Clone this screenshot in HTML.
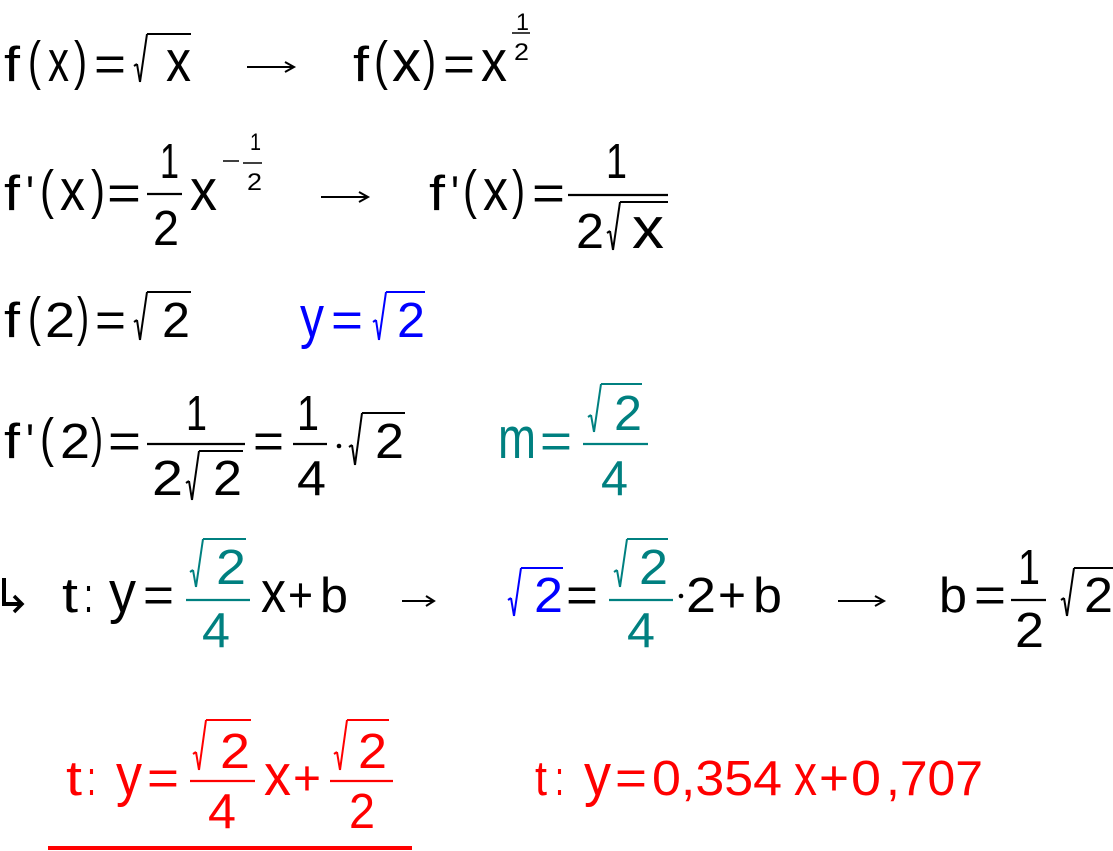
<!DOCTYPE html>
<html><head><meta charset="utf-8"><style>
html,body{margin:0;padding:0;background:#fff;}
svg{display:block}
text{font-family:"Liberation Sans",Arial,sans-serif;font-size:49px;fill:#000}
.l{font-size:58px}
.s{font-size:24px}
.p{font-size:54px}
.b{fill:#0000ff}.t{fill:#008080}.r{fill:#ff0000}
polyline{fill:none;stroke:#000;stroke-width:1.6}
line{stroke:#000;stroke-width:2.2}
.q line{stroke-width:2}
</style></head><body>
<svg width="1113" height="851" viewBox="0 0 1113 851" xmlns="http://www.w3.org/2000/svg">
<!-- Line 1 -->
<text x="4" y="81" textLength="16" lengthAdjust="spacingAndGlyphs">f</text>
<text class="p" x="28" y="79" textLength="13" lengthAdjust="spacingAndGlyphs">(</text>
<text class="l" x="48" y="81" textLength="21" lengthAdjust="spacingAndGlyphs">x</text>
<text class="p" x="74" y="79" textLength="13" lengthAdjust="spacingAndGlyphs">)</text>
<text x="94" y="81" textLength="32" lengthAdjust="spacingAndGlyphs">=</text>
<g class="q"><line x1="134" y1="66" x2="137" y2="64"/><line x1="137" y1="64" x2="140" y2="82"/><line x1="140" y1="82" x2="147" y2="34"/><line x1="147" y1="34" x2="191" y2="34"/></g>
<text class="l" x="166" y="81" textLength="25" lengthAdjust="spacingAndGlyphs">x</text>
<line x1="247" y1="67" x2="293" y2="67" style="stroke-width:2"/><polyline points="285,62 294,67 285,72" style="stroke-width:2"/>
<text x="353" y="81" textLength="16" lengthAdjust="spacingAndGlyphs">f</text>
<text class="p" x="374" y="79" textLength="14" lengthAdjust="spacingAndGlyphs">(</text>
<text class="l" x="392" y="81" textLength="29" lengthAdjust="spacingAndGlyphs">x</text>
<text class="p" x="423" y="79" textLength="13" lengthAdjust="spacingAndGlyphs">)</text>
<text x="443" y="81" textLength="32" lengthAdjust="spacingAndGlyphs">=</text>
<text class="l" x="481" y="81" textLength="26" lengthAdjust="spacingAndGlyphs">x</text>
<text class="s" x="516" y="30" textLength="13" lengthAdjust="spacingAndGlyphs">1</text>
<line x1="512" y1="33" x2="530" y2="33" style="stroke-width:1.5"/>
<text class="s" x="514" y="60" textLength="15" lengthAdjust="spacingAndGlyphs">2</text>
<!-- Line 2 -->
<text x="4" y="210" textLength="16" lengthAdjust="spacingAndGlyphs">f</text>
<text x="26" y="210" textLength="8" lengthAdjust="spacingAndGlyphs">'</text>
<text class="p" x="40" y="208" textLength="14" lengthAdjust="spacingAndGlyphs">(</text>
<text class="l" x="60" y="210" textLength="25" lengthAdjust="spacingAndGlyphs">x</text>
<text class="p" x="91" y="208" textLength="14" lengthAdjust="spacingAndGlyphs">)</text>
<text x="107" y="210" textLength="34" lengthAdjust="spacingAndGlyphs">=</text>
<text x="160" y="178" textLength="19" lengthAdjust="spacingAndGlyphs">1</text>
<line x1="147" y1="194" x2="182" y2="194"/>
<text x="153" y="245" textLength="26" lengthAdjust="spacingAndGlyphs">2</text>
<text class="l" x="190" y="210" textLength="27" lengthAdjust="spacingAndGlyphs">x</text>
<line x1="223" y1="161" x2="239" y2="161" style="stroke-width:1.5"/>
<text class="s" x="250" y="150" textLength="11" lengthAdjust="spacingAndGlyphs">1</text>
<line x1="243" y1="163" x2="262" y2="163" style="stroke-width:1.5"/>
<text class="s" x="247" y="190" textLength="15" lengthAdjust="spacingAndGlyphs">2</text>
<line x1="321" y1="197" x2="367" y2="197" style="stroke-width:2"/><polyline points="359,192 368,197 359,202" style="stroke-width:2"/>
<text x="429" y="210" textLength="16" lengthAdjust="spacingAndGlyphs">f</text>
<text x="451" y="210" textLength="8" lengthAdjust="spacingAndGlyphs">'</text>
<text class="p" x="463" y="208" textLength="14" lengthAdjust="spacingAndGlyphs">(</text>
<text class="l" x="483" y="210" textLength="25" lengthAdjust="spacingAndGlyphs">x</text>
<text class="p" x="512" y="208" textLength="13" lengthAdjust="spacingAndGlyphs">)</text>
<text x="532" y="210" textLength="33" lengthAdjust="spacingAndGlyphs">=</text>
<text x="606" y="178" textLength="21" lengthAdjust="spacingAndGlyphs">1</text>
<line x1="568" y1="195" x2="668" y2="195"/>
<text x="576" y="248" textLength="28" lengthAdjust="spacingAndGlyphs">2</text>
<g class="q"><line x1="607" y1="233" x2="610" y2="231"/><line x1="610" y1="231" x2="613" y2="250"/><line x1="613" y1="250" x2="620" y2="202"/><line x1="620" y1="202" x2="668" y2="202"/></g>
<text class="l" x="632" y="248" textLength="32" lengthAdjust="spacingAndGlyphs">x</text>
<!-- Line 3 -->
<text x="4" y="337" textLength="16" lengthAdjust="spacingAndGlyphs">f</text>
<text class="p" x="28" y="335" textLength="13" lengthAdjust="spacingAndGlyphs">(</text>
<text x="45" y="337" textLength="30" lengthAdjust="spacingAndGlyphs">2</text>
<text class="p" x="77" y="335" textLength="12" lengthAdjust="spacingAndGlyphs">)</text>
<text x="95" y="337" textLength="31" lengthAdjust="spacingAndGlyphs">=</text>
<g class="q"><line x1="134" y1="322" x2="137" y2="320"/><line x1="137" y1="320" x2="140" y2="340"/><line x1="140" y1="340" x2="147" y2="292"/><line x1="147" y1="292" x2="191" y2="292"/></g>
<text x="162" y="337" textLength="28" lengthAdjust="spacingAndGlyphs">2</text>
<text class="l b" x="300" y="337" textLength="24" lengthAdjust="spacingAndGlyphs">y</text>
<text class="b" x="331" y="337" textLength="32" lengthAdjust="spacingAndGlyphs">=</text>
<g class="q" style="stroke:#0000ff"><line x1="373" y1="322" x2="376" y2="320" style="stroke:#0000ff"/><line x1="376" y1="320" x2="379" y2="340" style="stroke:#0000ff"/><line x1="379" y1="340" x2="386" y2="292" style="stroke:#0000ff"/><line x1="386" y1="292" x2="425" y2="292" style="stroke:#0000ff"/></g>
<text class="b" x="397" y="337" textLength="28" lengthAdjust="spacingAndGlyphs">2</text>
<!-- Line 4 -->
<text x="4" y="458" textLength="16" lengthAdjust="spacingAndGlyphs">f</text>
<text x="26" y="458" textLength="8" lengthAdjust="spacingAndGlyphs">'</text>
<text class="p" x="40" y="456" textLength="14" lengthAdjust="spacingAndGlyphs">(</text>
<text x="60" y="458" textLength="30" lengthAdjust="spacingAndGlyphs">2</text>
<text class="p" x="91" y="456" textLength="12" lengthAdjust="spacingAndGlyphs">)</text>
<text x="108" y="458" textLength="33" lengthAdjust="spacingAndGlyphs">=</text>
<text x="186" y="430" textLength="21" lengthAdjust="spacingAndGlyphs">1</text>
<line x1="147" y1="444" x2="245" y2="444"/>
<text x="152" y="495" textLength="31" lengthAdjust="spacingAndGlyphs">2</text>
<g class="q"><line x1="186" y1="483" x2="189" y2="481"/><line x1="189" y1="481" x2="192" y2="500"/><line x1="192" y1="500" x2="199" y2="451"/><line x1="199" y1="451" x2="243" y2="451"/></g>
<text x="213" y="495" textLength="29" lengthAdjust="spacingAndGlyphs">2</text>
<text x="253" y="458" textLength="31" lengthAdjust="spacingAndGlyphs">=</text>
<text x="297" y="430" textLength="22" lengthAdjust="spacingAndGlyphs">1</text>
<line x1="293" y1="444" x2="327" y2="444"/>
<text x="297" y="495" textLength="29" lengthAdjust="spacingAndGlyphs">4</text>
<circle cx="339" cy="446" r="2.3" fill="#000"/>
<g class="q"><line x1="349" y1="447" x2="352" y2="445"/><line x1="352" y1="445" x2="355" y2="465"/><line x1="355" y1="465" x2="362" y2="413"/><line x1="362" y1="413" x2="405" y2="413"/></g>
<text x="375" y="458" textLength="29" lengthAdjust="spacingAndGlyphs">2</text>
<text class="l t" x="498" y="458" textLength="38" lengthAdjust="spacingAndGlyphs">m</text>
<text class="t" x="540" y="458" textLength="32" lengthAdjust="spacingAndGlyphs">=</text>
<g class="q"><line x1="588" y1="417" x2="591" y2="415" style="stroke:#008080"/><line x1="591" y1="415" x2="594" y2="432" style="stroke:#008080"/><line x1="594" y1="432" x2="601" y2="384" style="stroke:#008080"/><line x1="601" y1="384" x2="642" y2="384" style="stroke:#008080"/></g>
<text class="t" x="614" y="430" textLength="28" lengthAdjust="spacingAndGlyphs">2</text>
<line x1="583" y1="444" x2="648" y2="444" style="stroke:#008080"/>
<text class="t" x="601" y="495" textLength="27" lengthAdjust="spacingAndGlyphs">4</text>
<!-- Line 5 -->
<polyline points="4,578 4,604 20,604" style="stroke-width:4"/><polyline points="14,596 22,604 14,612" style="stroke-width:3.5"/>
<text x="62" y="612" textLength="16" lengthAdjust="spacingAndGlyphs">t</text>
<text x="84" y="612" textLength="9" lengthAdjust="spacingAndGlyphs">:</text>
<text class="l" x="109" y="612" textLength="27" lengthAdjust="spacingAndGlyphs">y</text>
<text x="143" y="612" textLength="31" lengthAdjust="spacingAndGlyphs">=</text>
<g class="q"><line x1="190" y1="572" x2="193" y2="570" style="stroke:#008080"/><line x1="193" y1="570" x2="196" y2="587" style="stroke:#008080"/><line x1="196" y1="587" x2="203" y2="539" style="stroke:#008080"/><line x1="203" y1="539" x2="246" y2="539" style="stroke:#008080"/></g>
<text class="t" x="216" y="584" textLength="30" lengthAdjust="spacingAndGlyphs">2</text>
<line x1="186" y1="600" x2="250" y2="600" style="stroke:#008080"/>
<text class="t" x="202" y="647" textLength="28" lengthAdjust="spacingAndGlyphs">4</text>
<text class="l" x="261" y="612" textLength="25" lengthAdjust="spacingAndGlyphs">x</text>
<text x="288" y="612" textLength="25" lengthAdjust="spacingAndGlyphs">+</text>
<text x="320" y="612" textLength="28" lengthAdjust="spacingAndGlyphs">b</text>
<line x1="402" y1="601" x2="433" y2="601" style="stroke-width:2"/><polyline points="426,596 434,601 426,606" style="stroke-width:2"/>
<g class="q"><line x1="508" y1="600" x2="511" y2="598" style="stroke:#0000ff"/><line x1="511" y1="598" x2="514" y2="616" style="stroke:#0000ff"/><line x1="514" y1="616" x2="521" y2="568" style="stroke:#0000ff"/><line x1="521" y1="568" x2="563" y2="568" style="stroke:#0000ff"/></g>
<text class="b" x="534" y="612" textLength="29" lengthAdjust="spacingAndGlyphs">2</text>
<text x="566" y="612" textLength="32" lengthAdjust="spacingAndGlyphs">=</text>
<g class="q"><line x1="614" y1="572" x2="617" y2="570" style="stroke:#008080"/><line x1="617" y1="570" x2="620" y2="587" style="stroke:#008080"/><line x1="620" y1="587" x2="627" y2="539" style="stroke:#008080"/><line x1="627" y1="539" x2="668" y2="539" style="stroke:#008080"/></g>
<text class="t" x="639" y="584" textLength="29" lengthAdjust="spacingAndGlyphs">2</text>
<line x1="609" y1="600" x2="673" y2="600" style="stroke:#008080"/>
<text class="t" x="627" y="647" textLength="28" lengthAdjust="spacingAndGlyphs">4</text>
<circle cx="681" cy="596" r="2.3" fill="#000"/>
<text x="686" y="612" textLength="30" lengthAdjust="spacingAndGlyphs">2</text>
<text x="718" y="612" textLength="28" lengthAdjust="spacingAndGlyphs">+</text>
<text x="753" y="612" textLength="29" lengthAdjust="spacingAndGlyphs">b</text>
<line x1="838" y1="601" x2="883" y2="601" style="stroke-width:2"/><polyline points="875,596 884,601 875,606" style="stroke-width:2"/>
<text x="939" y="612" textLength="28" lengthAdjust="spacingAndGlyphs">b</text>
<text x="974" y="612" textLength="32" lengthAdjust="spacingAndGlyphs">=</text>
<text x="1018" y="584" textLength="22" lengthAdjust="spacingAndGlyphs">1</text>
<line x1="1011" y1="600" x2="1046" y2="600"/>
<text x="1015" y="647" textLength="29" lengthAdjust="spacingAndGlyphs">2</text>
<g class="q"><line x1="1061" y1="600" x2="1064" y2="598"/><line x1="1064" y1="598" x2="1067" y2="616"/><line x1="1067" y1="616" x2="1074" y2="568"/><line x1="1074" y1="568" x2="1113" y2="568"/></g>
<text x="1084" y="612" textLength="29" lengthAdjust="spacingAndGlyphs">2</text>
<!-- Line 6 -->
<text class="r" x="66" y="795" textLength="16" lengthAdjust="spacingAndGlyphs">t</text>
<text class="r" x="87" y="795" textLength="9" lengthAdjust="spacingAndGlyphs">:</text>
<text class="l r" x="116" y="795" textLength="26" lengthAdjust="spacingAndGlyphs">y</text>
<text class="r" x="147" y="795" textLength="32" lengthAdjust="spacingAndGlyphs">=</text>
<g class="q"><line x1="193" y1="754" x2="196" y2="752" style="stroke:#ff0000"/><line x1="196" y1="752" x2="199" y2="770" style="stroke:#ff0000"/><line x1="199" y1="770" x2="206" y2="720" style="stroke:#ff0000"/><line x1="206" y1="720" x2="251" y2="720" style="stroke:#ff0000"/></g>
<text class="r" x="220" y="768" textLength="30" lengthAdjust="spacingAndGlyphs">2</text>
<line x1="190" y1="781" x2="255" y2="781" style="stroke:#ff0000"/>
<text class="r" x="208" y="828" textLength="28" lengthAdjust="spacingAndGlyphs">4</text>
<text class="l r" x="264" y="795" textLength="27" lengthAdjust="spacingAndGlyphs">x</text>
<text class="r" x="293" y="795" textLength="28" lengthAdjust="spacingAndGlyphs">+</text>
<g class="q"><line x1="334" y1="754" x2="337" y2="752" style="stroke:#ff0000"/><line x1="337" y1="752" x2="340" y2="770" style="stroke:#ff0000"/><line x1="340" y1="770" x2="347" y2="720" style="stroke:#ff0000"/><line x1="347" y1="720" x2="389" y2="720" style="stroke:#ff0000"/></g>
<text class="r" x="358" y="768" textLength="29" lengthAdjust="spacingAndGlyphs">2</text>
<line x1="330" y1="781" x2="393" y2="781" style="stroke:#ff0000"/>
<text class="r" x="349" y="828" textLength="26" lengthAdjust="spacingAndGlyphs">2</text>
<rect x="48" y="846" width="364" height="4" fill="#ff0000"/>
<text class="r" x="535" y="795" textLength="12" lengthAdjust="spacingAndGlyphs">t</text>
<text class="r" x="555" y="795" textLength="9" lengthAdjust="spacingAndGlyphs">:</text>
<text class="l r" x="584" y="795" textLength="27" lengthAdjust="spacingAndGlyphs">y</text>
<text class="r" x="615" y="795" textLength="32" lengthAdjust="spacingAndGlyphs">=</text>
<text class="r" x="652" y="795" textLength="130" lengthAdjust="spacingAndGlyphs">0,354</text>
<text class="l r" x="794" y="795" textLength="23" lengthAdjust="spacingAndGlyphs">x</text>
<text class="r" x="819" y="795" textLength="30" lengthAdjust="spacingAndGlyphs">+</text>
<text class="r" x="851" y="795" textLength="30" lengthAdjust="spacingAndGlyphs">0</text>
<text class="r" x="886" y="795" textLength="97" lengthAdjust="spacingAndGlyphs">,707</text>
</svg>
</body></html>
